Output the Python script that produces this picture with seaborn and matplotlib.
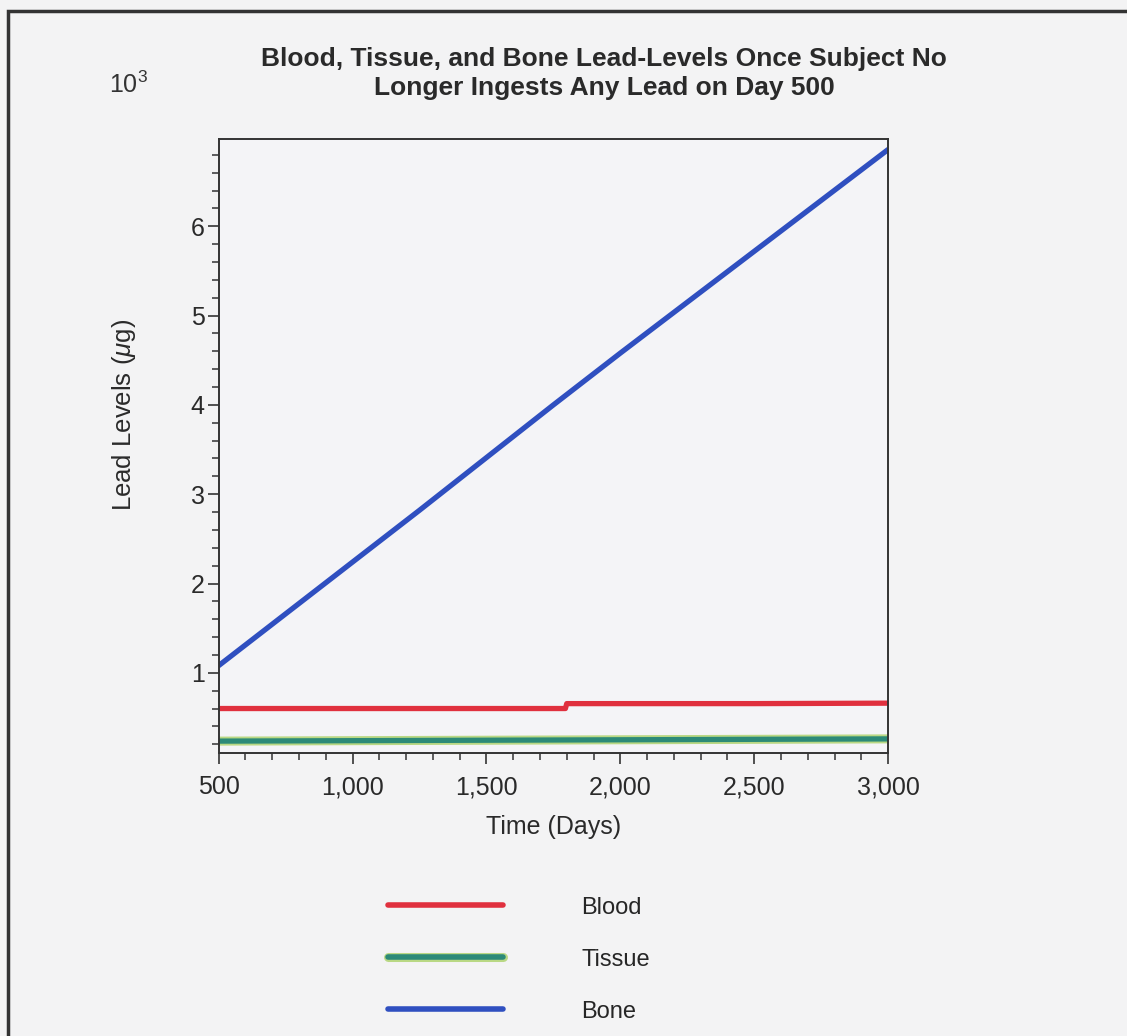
import numpy as np
import pandas as pd
import matplotlib
matplotlib.use("Agg")
import matplotlib.pyplot as plt
import matplotlib.patheffects as pe
from matplotlib.ticker import MultipleLocator, FuncFormatter
import seaborn as sns

# ---- data (values in 10^3 micrograms) ----
bone_days = [500, 750, 1000, 1250, 1500, 1750, 2000, 2250, 2500, 2750, 3000]
bone_vals = [1.08, 1.66, 2.24, 2.82, 3.41, 4.00, 4.58, 5.15, 5.72, 6.29, 6.86]
blood_days = [500, 1000, 1500, 1795, 1800, 2500, 3000]
blood_vals = [0.60, 0.60, 0.60, 0.60, 0.655, 0.655, 0.66]
tissue_days = [500, 1000, 1500, 2000, 2500, 3000]
tissue_vals = [0.235, 0.24, 0.245, 0.25, 0.255, 0.26]

series_names = ["Blood", "Tissue", "Bone"]
series_colors = ["#e0303e", "#2c8a78", "#2f4fc0"]

title_text = "Blood, Tissue, and Bone Lead-Levels Once Subject No\nLonger Ingests Any Lead on Day 500"
x_label = "Time (Days)"
y_label = "Lead Levels ($\\mu$g)"
multiplier_text = "10$^3$"

df = pd.concat([
    pd.DataFrame({"Time": blood_days, "Level": blood_vals, "Series": "Blood"}),
    pd.DataFrame({"Time": tissue_days, "Level": tissue_vals, "Series": "Tissue"}),
    pd.DataFrame({"Time": bone_days, "Level": bone_vals, "Series": "Bone"}),
], ignore_index=True)

sns.set_theme(style="ticks")
plt.rcParams["font.family"] = ["Liberation Sans", "DejaVu Sans"]
plt.rcParams["mathtext.fontset"] = "custom"
plt.rcParams["mathtext.rm"] = "Liberation Sans"
plt.rcParams["mathtext.it"] = "Liberation Sans:italic"

bg = "#f3f3f4"
fig = plt.figure(figsize=(11.27, 10.36), dpi=100, facecolor=bg)
ax = fig.add_axes([0.194, 0.273, 0.594, 0.593])
ax.set_facecolor("#f4f4f7")

sns.lineplot(data=df, x="Time", y="Level", hue="Series", hue_order=series_names,
             palette=dict(zip(series_names, series_colors)), linewidth=3.8,
             ax=ax, legend=True, estimator=None, sort=False)

# light halo on tissue line
for line in ax.get_lines():
    if matplotlib.colors.to_hex(line.get_color()) == "#2c8a78":
        line.set_path_effects([pe.Stroke(linewidth=6.5, foreground="#b9d884"), pe.Normal()])

ax.set_xlim(500, 3000)
ax.set_ylim(0.1, 6.98)
ax.xaxis.set_major_locator(MultipleLocator(500))
ax.xaxis.set_minor_locator(MultipleLocator(100))
ax.yaxis.set_major_locator(MultipleLocator(1))
ax.yaxis.set_minor_locator(MultipleLocator(0.2))
ax.xaxis.set_major_formatter(FuncFormatter(lambda v, p: f"{int(v):,}"))
ax.yaxis.set_major_formatter(FuncFormatter(lambda v, p: f"{int(v)}"))
ax.tick_params(axis="both", which="major", length=8, width=1.2, color="#333333",
               labelsize=18, labelcolor="#2a2a2a", direction="out")
ax.tick_params(axis="x", which="major", pad=8)
ax.tick_params(axis="y", which="major", pad=2)
ax.tick_params(axis="both", which="minor", length=5, width=1.1, color="#333333", direction="out")
for s in ax.spines.values():
    s.set_color("#333333")
    s.set_linewidth(1.4)

ax.set_xlabel(x_label, fontsize=18, color="#2a2a2a", labelpad=11)
ax.set_ylabel(y_label, fontsize=18.5, color="#2a2a2a")
ax.yaxis.set_label_coords(-0.12, 0.55)

fig.text(0.536, 0.929, title_text, ha="center", va="center", fontsize=19,
         fontweight="bold", color="#2a2a2a", linespacing=1.3)
fig.text(0.114, 0.918, multiplier_text, ha="center", va="center", fontsize=18, color="#333333")

# legend below the plot
handles, labels = ax.get_legend_handles_labels()
for h in handles:
    h.set_linewidth(4)
ax.legend(handles, labels, loc="upper left", bbox_to_anchor=(0.325, 0.155),
          bbox_transform=fig.transFigure, frameon=False, fontsize=17,
          handlelength=4.9, handletextpad=3.3, labelspacing=1.27)

# scan frame
fig.patches.append(matplotlib.patches.Rectangle((0.007, -0.01), 0.995, 0.999,
                   transform=fig.transFigure, fill=False, edgecolor="#333333", linewidth=2.5))

fig.savefig("out.png", dpi=100, facecolor=bg)
